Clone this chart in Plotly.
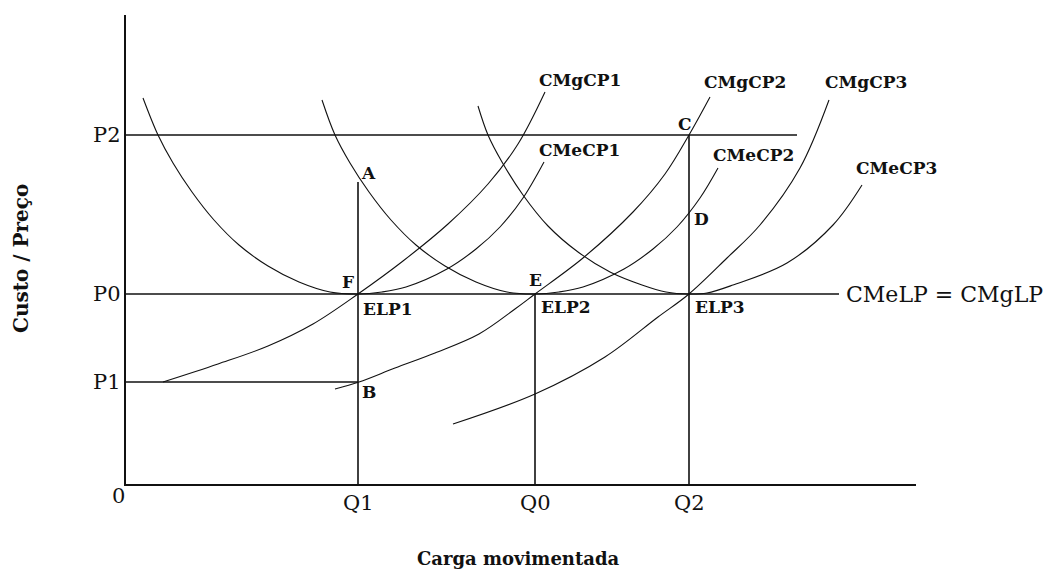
import plotly.graph_objects as go

# quantities and prices marked on the axes
q_labels = ["Q1", "Q0", "Q2"]
q_values = [232, 409, 563]
q_tops = [302, 190, 349]          # vertical guides end at A, ELP2 and C
p_labels = ["P1", "P0", "P2"]
p_values = [102, 190, 349]
p_ends = [232, 713, 671]          # horizontal guides end at B, far right, past C

# short run average cost curves (U shaped)
cmecp1_x = [17, 32, 47, 66, 88, 113, 142, 173, 204, 232, 256, 280, 321, 350, 374, 397, 418]
cmecp1_y = [386, 349, 321, 292, 264, 239, 218, 202, 192, 190, 192, 197, 215, 235, 257, 286, 322]
cmecp2_x = [196, 209, 224, 243, 265, 290, 319, 350, 381, 409, 433, 457, 498, 527, 551, 574, 592]
cmecp2_y = [384, 349, 321, 292, 264, 239, 218, 202, 192, 190, 192, 197, 215, 235, 257, 286, 316]
cmecp3_x = [352, 362, 376, 397, 422, 452, 484, 516, 540, 563, 581, 607, 661, 707, 736]
cmecp3_y = [378, 349, 322, 289, 258, 232, 212, 199, 192, 190, 191, 199, 221, 259, 299]

# short run marginal cost curves
cmgcp1_x = [37, 92, 142, 187, 232, 277, 322, 362, 392, 419]
cmgcp1_y = [102, 120, 138, 160, 190, 223, 260, 300, 340, 392]
cmgcp2_x = [209, 233, 269, 309, 353, 389, 409, 457, 507, 539, 563, 584]
cmgcp2_y = [95, 102, 116, 131, 150, 175, 190, 226, 272, 310, 349, 387]
cmgcp3_x = [327, 409, 479, 532, 563, 601, 634, 674, 703]
cmgcp3_y = [60, 90, 127, 167, 190, 226, 259, 316, 384]

curve_names = ["CMgCP1", "CMgCP2", "CMgCP3", "CMeCP1", "CMeCP2", "CMeCP3"]
curve_label_x = [454, 619, 740, 453, 627, 770]
curve_label_y = [404, 402, 402, 334, 329, 316]

point_names = ["A", "B", "C", "D", "E", "F", "ELP1", "ELP2", "ELP3"]
point_x = [242, 243, 559, 575, 409, 222, 262, 440, 594]
point_y = [311, 92, 360, 265, 204, 202, 175, 177, 177]

serif = "DejaVu Serif"
black = "#111111"
x_span, y_span = 790, 469

fig = go.Figure()

# guide lines
for q, top in zip(q_values, q_tops):
    fig.add_trace(go.Scatter(x=[q, q], y=[0, top], mode="lines",
                             line=dict(color=black, width=1.6), hoverinfo="skip"))
for p, end in zip(p_values, p_ends):
    fig.add_trace(go.Scatter(x=[0, end], y=[p, p], mode="lines",
                             line=dict(color=black, width=1.6), hoverinfo="skip"))

curves = [
    (cmecp1_x, cmecp1_y), (cmecp2_x, cmecp2_y), (cmecp3_x, cmecp3_y),
    (cmgcp1_x, cmgcp1_y), (cmgcp2_x, cmgcp2_y), (cmgcp3_x, cmgcp3_y),
]
for cx, cy in curves:
    fig.add_trace(go.Scatter(x=cx, y=cy, mode="lines",
                             line=dict(color=black, width=1.1, shape="spline", smoothing=1),
                             hoverinfo="skip"))

bold = dict(family=serif, size=17, color=black, weight="bold")
for name, lx, ly in zip(curve_names, curve_label_x, curve_label_y):
    fig.add_annotation(x=lx, y=ly, text=name, showarrow=False, font=bold,
                       xanchor="center", yanchor="middle")
for name, lx, ly in zip(point_names, point_x, point_y):
    fig.add_annotation(x=lx, y=ly, text=name, showarrow=False, font=bold,
                       xanchor="center", yanchor="middle")

big = dict(family=serif, size=21, color=black)
fig.add_annotation(x=718, y=p_values[1], text="CMeLP = CMgLP", showarrow=False,
                   font=dict(family=serif, size=22, color=black),
                   xanchor="left", yanchor="middle")

# axis marks P0..P2, Q0..Q2 and the origin
for name, p in zip(p_labels, p_values):
    fig.add_annotation(x=-3 / x_span, xref="paper", y=p, text=name, showarrow=False,
                       font=big, xanchor="right", yanchor="middle")
for name, q in zip(q_labels, q_values):
    fig.add_annotation(x=q, y=-19 / y_span, yref="paper", text=name, showarrow=False,
                       font=big, xanchor="center", yanchor="middle")
fig.add_annotation(x=-8 / x_span, y=-12 / y_span, xref="paper", yref="paper", text="0",
                   showarrow=False, font=big, xanchor="center", yanchor="middle")

# axis titles
fig.add_annotation(x=392 / x_span, y=-74 / y_span, xref="paper", yref="paper",
                   text="Carga movimentada", showarrow=False,
                   font=dict(family=serif, size=18, color=black, weight="bold"),
                   xanchor="center", yanchor="middle")
fig.add_annotation(x=-105 / x_span, y=225 / y_span, xref="paper", yref="paper",
                   text="Custo / Preço", textangle=-90, showarrow=False,
                   font=dict(family=serif, size=20, color=black, weight="bold"),
                   xanchor="center", yanchor="middle")

fig.update_xaxes(range=[0, x_span], showgrid=False, zeroline=False, showline=True,
                 linecolor=black, linewidth=1.6, showticklabels=False, ticks="")
fig.update_yaxes(range=[0, y_span], showgrid=False, zeroline=False, showline=True,
                 linecolor=black, linewidth=1.6, showticklabels=False, ticks="")

# page body adds an 8px margin, so the figure is 8px smaller than the window
fig.update_layout(width=1049, height=561, showlegend=False,
                  margin=dict(l=118, r=141, t=7, b=85, pad=0),
                  plot_bgcolor="white", paper_bgcolor="white")

fig.write_html("out.html")
